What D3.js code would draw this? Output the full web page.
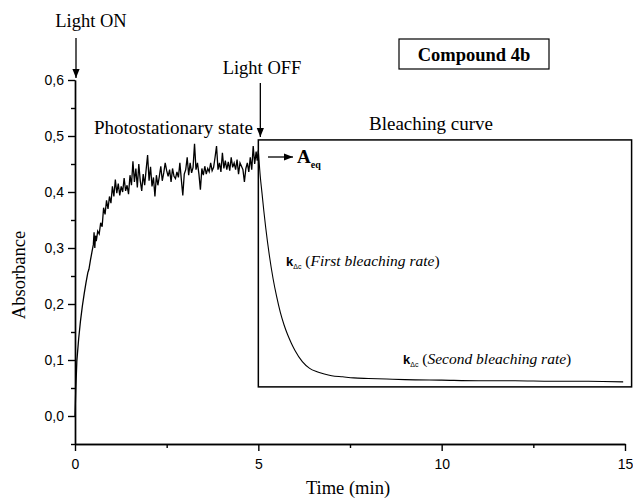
<!DOCTYPE html>
<html>
<head>
<meta charset="utf-8">
<script src="https://cdn.jsdelivr.net/npm/d3@7"></script>
<style>
  body { margin: 0; background: #fff; }
  svg { display: block; }
  .axis text { font-family: "Liberation Sans", Arial, sans-serif; font-size: 14px; fill: #000; }
  .axis path, .axis line { stroke: #000; stroke-width: 1.4; }
  .serif { font-family: "Liberation Serif", "Times New Roman", serif; fill: #000; }
</style>
</head>
<body>
<svg width="633" height="499"></svg>
<script>
// photostationary build-up under irradiation (time in min, absorbance)
var riseTime = [0, 0.02, 0.05, 0.10, 0.15, 0.20, 0.25, 0.30, 0.35, 0.38, 0.42, 0.46, 0.50, 0.52, 0.54, 0.56, 0.58,
  0.62, 0.66, 0.70, 0.74, 0.78, 0.82, 0.86, 0.90, 0.94, 0.98, 1.02, 1.06, 1.10, 1.14, 1.18, 1.22, 1.26, 1.30,
  1.34, 1.38, 1.42, 1.46, 1.50, 1.54, 1.58, 1.62, 1.66, 1.70, 1.74, 1.78, 1.82, 1.86, 1.90, 1.94, 1.98, 2.02,
  2.06, 2.10, 2.14, 2.18, 2.22, 2.26, 2.30, 2.34, 2.38, 2.42, 2.46, 2.50, 2.54, 2.58, 2.62, 2.66, 2.70, 2.74,
  2.78, 2.82, 2.86, 2.90, 2.94, 2.98, 3.02, 3.06, 3.10, 3.14, 3.18, 3.22, 3.26, 3.30, 3.34, 3.38, 3.42, 3.46,
  3.50, 3.54, 3.58, 3.62, 3.66, 3.70, 3.74, 3.78, 3.82, 3.86, 3.90, 3.94, 3.98, 4.02, 4.06, 4.10, 4.14, 4.18,
  4.22, 4.26, 4.30, 4.34, 4.38, 4.42, 4.46, 4.50, 4.54, 4.58, 4.62, 4.66, 4.70, 4.74, 4.78, 4.82, 4.86, 4.90,
  4.94, 4.97, 5.00];
var riseAbs = [0, 0.045, 0.098, 0.138, 0.170, 0.196, 0.218, 0.238, 0.256, 0.262, 0.278, 0.292, 0.306, 0.328, 0.300, 0.322, 0.312,
  0.330, 0.325, 0.345, 0.338, 0.372, 0.360, 0.385, 0.370, 0.392, 0.380, 0.410, 0.392, 0.422, 0.398, 0.415, 0.394, 0.410, 0.400,
  0.425, 0.402, 0.412, 0.396, 0.430, 0.412, 0.455, 0.418, 0.442, 0.408, 0.450, 0.420, 0.402, 0.432, 0.412, 0.440, 0.466, 0.420,
  0.445, 0.410, 0.426, 0.392, 0.430, 0.412, 0.428, 0.446, 0.420, 0.434, 0.452, 0.438, 0.428, 0.440, 0.418, 0.442, 0.428, 0.424,
  0.436, 0.426, 0.452, 0.422, 0.394, 0.432, 0.440, 0.462, 0.430, 0.452, 0.434, 0.444, 0.486, 0.440, 0.452, 0.432, 0.404, 0.442,
  0.430, 0.446, 0.432, 0.442, 0.436, 0.452, 0.438, 0.444, 0.462, 0.482, 0.440, 0.452, 0.436, 0.470, 0.442, 0.456, 0.440, 0.454,
  0.438, 0.462, 0.444, 0.452, 0.440, 0.458, 0.432, 0.452, 0.446, 0.440, 0.418, 0.442, 0.452, 0.436, 0.462, 0.440, 0.482, 0.450,
  0.472, 0.456, 0.474];

// thermal bleaching after the light is switched off
var decayTime = [5.00, 5.05, 5.10, 5.15, 5.20, 5.30, 5.40, 5.50, 5.60, 5.70, 5.80, 5.90, 6.00, 6.20, 6.40, 6.60,
  6.80, 7.00, 7.30, 7.60, 8.00, 8.50, 9.00, 10.0, 11.0, 12.0, 13.0, 14.0, 14.95];
var decayAbs = [0.474, 0.430, 0.398, 0.366, 0.337, 0.287, 0.246, 0.213, 0.185, 0.163, 0.145, 0.130, 0.117, 0.097, 0.085, 0.079,
  0.075, 0.072, 0.070, 0.068, 0.067, 0.066, 0.065, 0.064, 0.063, 0.063, 0.062, 0.062, 0.061];

var xTicks = [0, 5, 10, 15];
var xMinor = [2.5, 7.5, 12.5];
var yTicks = [0, 0.1, 0.2, 0.3, 0.4, 0.5, 0.6];
var yMinor = [-0.05, 0.05, 0.15, 0.25, 0.35, 0.45, 0.55];

var svg = d3.select("svg");

var x = d3.scaleLinear().domain([0, 15]).range([75, 625]);
var y = d3.scaleLinear().domain([-0.05, 0.6]).range([444, 80]);

var comma = function(d) { return d3.format(".1f")(d).replace(".", ","); };

// axes (left + bottom only, minor ticks drawn as a second axis)
svg.append("g").attr("class", "axis")
  .attr("transform", "translate(" + x(0) + ",0)")
  .call(d3.axisLeft(y).tickValues(yMinor).tickSize(4).tickSizeOuter(0).tickFormat(""));
svg.append("g").attr("class", "axis")
  .attr("transform", "translate(" + x(0) + ",0)")
  .call(d3.axisLeft(y).tickValues(yTicks).tickSize(7).tickSizeOuter(0).tickPadding(4).tickFormat(comma));

svg.append("g").attr("class", "axis")
  .attr("transform", "translate(0," + y(-0.05) + ")")
  .call(d3.axisBottom(x).tickValues(xMinor).tickSize(4).tickSizeOuter(0).tickFormat(""));
svg.append("g").attr("class", "axis")
  .attr("transform", "translate(0," + y(-0.05) + ")")
  .call(d3.axisBottom(x).tickValues(xTicks).tickSize(7).tickSizeOuter(0).tickPadding(8).tickFormat(d3.format("d")));

svg.append("text").attr("class", "serif")
  .attr("x", 348).attr("y", 494)
  .attr("text-anchor", "middle").attr("font-size", 18.5)
  .text("Time (min)");

svg.append("text").attr("class", "serif")
  .attr("transform", "translate(25,275) rotate(-90)")
  .attr("text-anchor", "middle").attr("font-size", 18.5)
  .text("Absorbance");

// bleaching box
svg.append("rect")
  .attr("x", x(5)).attr("y", y(0.493))
  .attr("width", x(15.18) - x(5)).attr("height", y(0.052) - y(0.493))
  .attr("fill", "none").attr("stroke", "#000").attr("stroke-width", 1.5);

// curves
var line = d3.line()
  .x(function(d) { return x(d[0]); })
  .y(function(d) { return y(d[1]); });

svg.append("path")
  .datum(d3.zip(riseTime, riseAbs))
  .attr("fill", "none").attr("stroke", "#000").attr("stroke-width", 1.3)
  .attr("d", line);

svg.append("path")
  .datum(d3.zip(decayTime, decayAbs))
  .attr("fill", "none").attr("stroke", "#000").attr("stroke-width", 1.1)
  .attr("d", line.curve(d3.curveMonotoneX));

// arrows
svg.append("defs").append("marker")
  .attr("id", "head")
  .attr("viewBox", "0 0 10 10").attr("refX", 10).attr("refY", 5)
  .attr("markerWidth", 9).attr("markerHeight", 9).attr("markerUnits", "userSpaceOnUse")
  .attr("orient", "auto")
  .append("path").attr("d", "M0,1L10,5L0,9Z").attr("fill", "#000");

function arrow(x1, y1, x2, y2) {
  svg.append("line")
    .attr("x1", x1).attr("y1", y1).attr("x2", x2).attr("y2", y2)
    .attr("stroke", "#000").attr("stroke-width", 1.3)
    .attr("marker-end", "url(#head)");
}

arrow(x(0) + 1, 38, x(0) + 1, 78);
arrow(x(5) + 2, 83, x(5) + 2, 137);
arrow(268, 157, 293, 157);

// annotations
svg.append("text").attr("class", "serif")
  .attr("x", 91).attr("y", 27).attr("text-anchor", "middle").attr("font-size", 18.5)
  .text("Light ON");
svg.append("text").attr("class", "serif")
  .attr("x", 262).attr("y", 74).attr("text-anchor", "middle").attr("font-size", 18.5)
  .text("Light OFF");
svg.append("text").attr("class", "serif")
  .attr("x", 94).attr("y", 134).attr("font-size", 19)
  .text("Photostationary state");
svg.append("text").attr("class", "serif")
  .attr("x", 431).attr("y", 130).attr("text-anchor", "middle").attr("font-size", 19)
  .text("Bleaching curve");

var aeq = svg.append("text").attr("class", "serif")
  .attr("x", 297).attr("y", 163).attr("font-size", 19).attr("font-weight", "bold");
aeq.append("tspan").text("A");
aeq.append("tspan").attr("font-size", 10).attr("dy", 5).text("eq");

// compound label
svg.append("rect")
  .attr("x", 399).attr("y", 39).attr("width", 150).attr("height", 30)
  .attr("fill", "none").attr("stroke", "#000").attr("stroke-width", 1.2);
svg.append("text").attr("class", "serif")
  .attr("x", 474).attr("y", 61).attr("text-anchor", "middle")
  .attr("font-size", 18.5).attr("font-weight", "bold")
  .text("Compound 4b");

function rateLabel(px, py, words) {
  var t = svg.append("text").attr("x", px).attr("y", py);
  t.append("tspan")
    .attr("font-family", "Liberation Sans, Arial, sans-serif")
    .attr("font-weight", "bold").attr("font-size", 13).text("k");
  t.append("tspan")
    .attr("font-family", "Liberation Sans, Arial, sans-serif")
    .attr("font-size", 7).attr("dy", 3).text("\u0394c");
  t.append("tspan").attr("class", "serif").attr("font-size", 15.5).attr("dy", -3).text(" (");
  t.append("tspan").attr("class", "serif").attr("font-size", 15.5)
    .attr("font-style", "italic").text(words);
  t.append("tspan").attr("class", "serif").attr("font-size", 15.5).text(")");
}

rateLabel(286, 266, "First bleaching rate");
rateLabel(403, 364, "Second bleaching rate");
</script>
</body>
</html>
